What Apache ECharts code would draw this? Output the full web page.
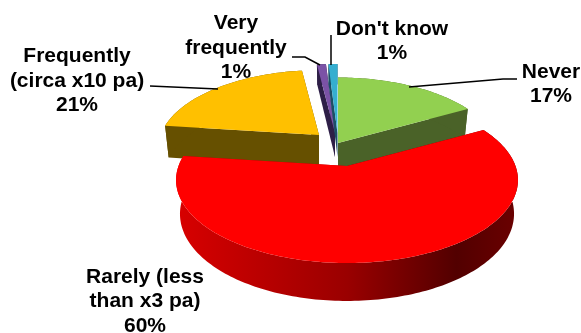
<!DOCTYPE html>
<html>
<head>
<meta charset="utf-8">
<style>html,body{margin:0;padding:0;background:#fff}#chart{width:581px;height:333px}</style>
<script src="https://cdn.jsdelivr.net/npm/echarts@6/dist/echarts.min.js"></script>
</head>
<body>
<div id="chart"></div>
<script>
// Survey answers, in clockwise order from twelve o'clock
var categories = ['Never', 'Rarely (less\nthan x3 pa)', 'Frequently\n(circa x10 pa)', 'Very\nfrequently', "Don't know"];
var percentValues = [17, 60, 21, 1, 1];

// Slice appearance
var topColors = ['#92d050', '#ff0000', '#ffc000', '#7b52a6', '#35aed0'];
var wallColors = ['#4a6228', null, '#665000', '#2e1f47', '#1c4f66'];
var redWallStops = [[0, '#d80000'], [0.5, '#9a0000'], [0.82, '#520000'], [1, '#6b0000']];

// Where each exploded slice sits: apex x, apex y, scale, wall depth
var sliceApexX = [338, 347, 319, 335, 337.5];
var sliceApexY = [143, 166, 135, 133, 133];
var sliceScale = [0.95, 1, 0.94, 1, 1];
var sliceDepth = [31, 33, 32.5, 24, 24];

// Label anchors and leader lines
var labelX = [551, 145, 77, 236, 392];
var labelY = [84, 301.5, 81, 48, 41];
var leaderLines = [
  [[409, 87], [503, 79], [517, 79]],
  null,
  [[150, 86], [218, 89]],
  [[292, 57], [305, 57], [320, 65]],
  [[331, 35], [331, 65]]
];

// Back-to-front painting order
var drawOrder = [3, 4, 2, 0, 1];

// Tilted-disc projection
var TILT_X = 168.5, TILT_Y = 80.6, PERSPECTIVE = 0.169, WALL_SHRINK = 0.977;

var total = percentValues.reduce(function (a, b) { return a + b; }, 0);
var startAngles = [];
percentValues.reduce(function (acc, v, i) {
  startAngles[i] = acc;
  return acc + v / total * Math.PI * 2;
}, 0);

function project(i, theta, radius, lower) {
  var u = Math.sin(theta) * radius, v = Math.cos(theta) * radius;
  var w = 1 + PERSPECTIVE * v;
  var s = sliceScale[i];
  var x = sliceApexX[i] + s * (lower ? WALL_SHRINK : 1) * TILT_X * u / w;
  var y = sliceApexY[i] - s * TILT_Y * v / w;
  if (lower) y += sliceDepth[i] * (1 - 0.15 * v);
  return [x, y];
}

function arcPoints(i, a0, a1, lower) {
  var pts = [], n = Math.max(4, Math.ceil((a1 - a0) / 0.02));
  for (var k = 0; k <= n; k++) pts.push(project(i, a0 + (a1 - a0) * k / n, 1, lower));
  return pts;
}

function renderSlice(params, api) {
  var i = drawOrder[params.dataIndex];
  var a0 = startAngles[i];
  var a1 = a0 + api.value(0) / total * Math.PI * 2;
  var wallFill = wallColors[i] || new echarts.graphic.LinearGradient(0, 0, 1, 0,
    redWallStops.map(function (s) { return { offset: s[0], color: s[1] }; }));
  var top = arcPoints(i, a0, a1, false), bottom = arcPoints(i, a0, a1, true);
  var apexTop = project(i, 0, 0, false), apexBottom = project(i, 0, 0, true);
  var children = [];
  function wall(points, fill) {
    children.push({ type: 'polygon', shape: { points: points }, style: { fill: fill }, silent: true });
  }
  // Cut faces first, then the rim, then the top surface
  wall([apexTop, top[0], bottom[0], apexBottom], wallColors[i] || '#7a0000');
  wall([apexTop, top[top.length - 1], bottom[bottom.length - 1], apexBottom], wallColors[i] || '#a00000');
  wall(top.concat(bottom.slice().reverse()), wallFill);
  wall([apexTop].concat(top), topColors[i]);

  if (leaderLines[i]) {
    children.push({
      type: 'polyline', z2: 50, silent: true,
      shape: { points: leaderLines[i] },
      style: { stroke: '#000', lineWidth: 1.5, fill: null }
    });
  }
  children.push({
    type: 'text', z2: 60, silent: true,
    x: labelX[i], y: labelY[i],
    style: {
      text: categories[i] + '\n' + api.value(0) + '%',
      align: 'center', verticalAlign: 'middle',
      fontFamily: '"Liberation Sans", Arial, sans-serif',
      fontWeight: 'bold', fontSize: 21, lineHeight: 24.5, fill: '#000'
    }
  });
  return { type: 'group', children: children };
}

var chart = echarts.init(document.getElementById('chart'), null, { renderer: 'canvas' });
chart.setOption({
  animation: false,
  backgroundColor: '#fff',
  series: [{
    type: 'custom',
    coordinateSystem: 'none',
    renderItem: renderSlice,
    encode: { value: 0 },
    data: drawOrder.map(function (i) { return { name: categories[i], value: [percentValues[i]] }; })
  }]
});
</script>
</body>
</html>
